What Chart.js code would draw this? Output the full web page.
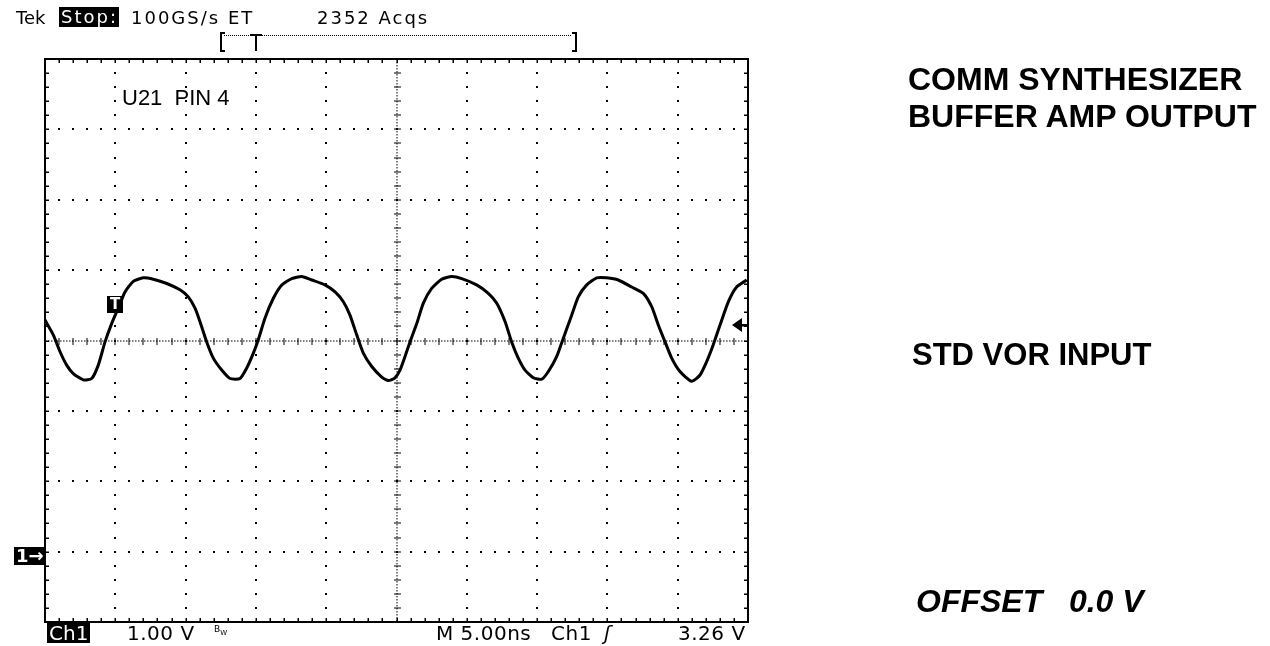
<!DOCTYPE html>
<html>
<head>
<meta charset="utf-8">
<script src="https://cdn.jsdelivr.net/npm/chart.js@4.4.1/dist/chart.umd.min.js"></script>
<style>
  html, body { margin: 0; padding: 0; background: #fff; }
  #wrap { position: relative; width: 1270px; height: 646px; overflow: hidden; }
  #scope { position: absolute; left: 0; top: 0; }
  .t { position: absolute; white-space: pre; color: #000; line-height: 1; }
  .tek { font-family: 'DejaVu Sans', sans-serif; font-size: 18px; letter-spacing: 2px; }
  .tekb { font-family: 'DejaVu Sans', sans-serif; font-size: 20px; letter-spacing: 0.5px; }
  .inv { background: #000; color: #fff; }
  .note { font-family: 'Liberation Sans', Arial, sans-serif; font-weight: bold; font-size: 32px; }
</style>
</head>
<body>
<div id="wrap">
  <canvas id="scope" width="1270" height="646"></canvas>

  <!-- scope header -->
  <div class="t tek" style="left:16px;top:9px;letter-spacing:0">Tek</div>
  <div class="t tek inv" style="left:59px;top:7px;padding:1px 1px 1px 2px">Stop:</div>
  <div class="t tek" style="left:131px;top:9px">100GS/s ET</div>
  <div class="t tek" style="left:317px;top:9px">2352 Acqs</div>

  <!-- scope footer -->
  <div class="t tekb inv" style="left:47px;top:623px;padding:0 2px;letter-spacing:0">Ch1</div>
  <div class="t tekb" style="left:127px;top:623px">1.00 V</div>
  <div class="t" style="left:214px;top:624px;font:9px 'DejaVu Sans',sans-serif">B<sub style="font-size:7px">W</sub></div>
  <div class="t tekb" style="left:436px;top:623px">M 5.00ns</div>
  <div class="t tekb" style="left:551px;top:623px">Ch1</div>
  <div class="t tekb" style="left:604px;top:623px;font-style:italic">ʃ</div>
  <div class="t tekb" style="left:678px;top:623px">3.26 V</div>

  <!-- markers -->
  <div class="t tekb inv" style="left:14px;top:547px;padding:0 2px;font-size:18px;font-weight:bold;letter-spacing:0">1→</div>
  <div class="t inv" style="left:107px;top:296px;width:16px;height:17px;font:bold 15px 'DejaVu Sans',sans-serif;text-align:center;line-height:17px">T</div>

  <!-- probe label inside graticule -->
  <div class="t" style="left:122px;top:85px;font:22px 'Liberation Sans',Arial,sans-serif">U21  PIN 4</div>

  <!-- notes -->
  <div class="t note" style="left:908px;top:63px">COMM SYNTHESIZER</div>
  <div class="t note" style="left:908px;top:100px">BUFFER AMP OUTPUT</div>
  <div class="t note" style="left:912px;top:339px;font-size:31px">STD VOR INPUT</div>
  <div class="t note" style="left:916px;top:585px;font-style:italic">OFFSET   0.0 V</div>
</div>

<script>
// Screen: 10 horizontal divisions of 5 ns, 8 vertical divisions of 1 V
const xMin = -25, xMax = 25, xDiv = 5;
const yMin = -4, yMax = 4, yDiv = 1;

// Trace (time in ns, level in V relative to centre line)
const timeNs = [
  -25.0, -24.41, -23.93, -23.46, -22.99, -22.27, -21.68, -21.21, -20.73, -20.26,
  -19.79, -19.31, -18.72, -18.01, -17.30, -16.34, -15.40, -14.81, -14.33, -13.98,
  -13.50, -13.03, -12.43, -11.84, -11.13, -10.65, -10.18, -9.83, -9.35, -8.76,
  -8.16, -7.45, -6.74, -6.03, -5.09, -4.37, -3.78, -3.31, -2.83, -2.36,
  -1.76, -1.05, -0.58, -0.11, 0.25, 0.60, 0.96, 1.44, 1.91, 2.50, 3.21,
  3.93, 4.64, 5.70, 6.53, 7.13, 7.72, 8.19, 8.66, 9.14, 9.73,
  10.33, 10.80, 11.39, 11.86, 12.46, 12.93, 13.53, 14.24, 14.95, 15.77,
  16.73, 17.55, 18.15, 18.62, 19.10, 19.57, 20.16, 20.99, 21.59, 22.06,
  22.53, 23.01, 23.60, 24.19, 24.91
];
const volts = [
  0.29, 0.08, -0.16, -0.35, -0.47, -0.56, -0.54, -0.35, -0.02, 0.24,
  0.46, 0.69, 0.84, 0.89, 0.87, 0.81, 0.72, 0.62, 0.46, 0.27,
  -0.02, -0.25, -0.42, -0.54, -0.54, -0.39, -0.18, 0.01, 0.32, 0.60,
  0.79, 0.88, 0.91, 0.86, 0.79, 0.69, 0.55, 0.36, 0.08, -0.18,
  -0.37, -0.52, -0.57, -0.53, -0.42, -0.23, -0.02, 0.24, 0.53, 0.74, 0.87,
  0.91, 0.88, 0.79, 0.67, 0.53, 0.27, -0.02, -0.25, -0.42, -0.53,
  -0.55, -0.44, -0.23, 0.03, 0.36, 0.62, 0.79, 0.89, 0.89, 0.86,
  0.76, 0.67, 0.48, 0.22, -0.02, -0.25, -0.44, -0.58, -0.49, -0.30,
  -0.06, 0.22, 0.55, 0.76, 0.86
];

// Trigger level (right-edge arrow)
const trigLevel = 0.22;

// Draw the Tek style graticule, border and trigger arrow
const graticule = {
  id: 'graticule',
  beforeDatasetsDraw(chart) {
    const { ctx, chartArea: a, scales: { x, y } } = chart;
    ctx.save();
    ctx.fillStyle = '#000';

    // minor positions: 5 per division
    const xs = [], ys = [];
    for (let i = 0; i <= (xMax - xMin) / xDiv * 5; i++) xs.push(x.getPixelForValue(xMin + i * xDiv / 5));
    for (let i = 0; i <= (yMax - yMin) / yDiv * 5; i++) ys.push(y.getPixelForValue(yMin + i * yDiv / 5));

    // dotted major lines
    for (let t = xMin + xDiv; t < xMax; t += xDiv) {
      if (t === 0) continue;
      const px = Math.round(x.getPixelForValue(t));
      ys.forEach(py => ctx.fillRect(px - 1, Math.round(py) - 1, 2, 2));
    }
    for (let v = yMin + yDiv; v < yMax; v += yDiv) {
      if (v === 0) continue;
      const py = Math.round(y.getPixelForValue(v));
      xs.forEach(px => ctx.fillRect(Math.round(px) - 1, py - 1, 2, 2));
    }

    // centre lines: fine dots plus cross ticks
    const cx = Math.round(x.getPixelForValue(0));
    const cy = Math.round(y.getPixelForValue(0));
    for (let px = a.left; px < a.right; px += 3) ctx.fillRect(px, cy - 0.5, 1.5, 1);
    for (let py = a.top; py < a.bottom; py += 3) ctx.fillRect(cx - 0.5, py, 1, 1.5);
    xs.forEach(px => ctx.fillRect(Math.round(px) - 0.5, cy - 3, 1, 7));
    ys.forEach(py => ctx.fillRect(cx - 3, Math.round(py) - 0.5, 7, 1));

    // border ticks
    xs.forEach(px => {
      ctx.fillRect(Math.round(px) - 0.5, a.top, 1.5, 4);
      ctx.fillRect(Math.round(px) - 0.5, a.bottom - 4, 1.5, 4);
    });
    ys.forEach(py => {
      ctx.fillRect(a.left, Math.round(py) - 0.5, 4, 1.5);
      ctx.fillRect(a.right - 4, Math.round(py) - 0.5, 4, 1.5);
    });
    ctx.restore();
  },
  afterDatasetsDraw(chart) {
    const { ctx, chartArea: a, scales: { y } } = chart;
    ctx.save();
    ctx.strokeStyle = '#000';
    ctx.lineWidth = 2;
    ctx.strokeRect(a.left, a.top, a.right - a.left, a.bottom - a.top);

    // trigger level arrow on the right edge
    const ty = Math.round(y.getPixelForValue(trigLevel));
    ctx.fillStyle = '#000';
    ctx.beginPath();
    ctx.moveTo(a.right - 16, ty);
    ctx.lineTo(a.right - 6, ty - 7);
    ctx.lineTo(a.right - 6, ty + 7);
    ctx.closePath();
    ctx.fill();
    ctx.fillRect(a.right - 7, ty - 1, 7, 2.5);

    // record / trigger position bar above the screen
    ctx.lineWidth = 2;
    ctx.beginPath();
    ctx.moveTo(225, 33); ctx.lineTo(221, 33); ctx.lineTo(221, 51); ctx.lineTo(225, 51);
    ctx.moveTo(572, 33); ctx.lineTo(576, 33); ctx.lineTo(576, 51); ctx.lineTo(572, 51);
    ctx.moveTo(250, 35); ctx.lineTo(262, 35);
    ctx.moveTo(256, 35); ctx.lineTo(256, 51);
    ctx.stroke();
    for (let px = 224; px < 572; px += 2) ctx.fillRect(px, 35, 1, 1);
    ctx.restore();
  }
};

const ctx = document.getElementById('scope').getContext('2d');

new Chart(ctx, {
  type: 'line',
  data: {
    datasets: [{
      data: timeNs.map((t, i) => ({ x: t, y: volts[i] })),
      borderColor: '#000',
      borderWidth: 3,
      pointRadius: 0,
      tension: 0.2,
      fill: false
    }]
  },
  options: {
    responsive: false,
    animation: false,
    events: [],
    layout: { padding: { left: 45, right: 522, top: 59, bottom: 24 } },
    plugins: {
      legend: { display: false },
      tooltip: { enabled: false }
    },
    scales: {
      x: { type: 'linear', min: xMin, max: xMax, display: false },
      y: { type: 'linear', min: yMin, max: yMax, display: false }
    }
  },
  plugins: [graticule]
});
</script>
</body>
</html>
